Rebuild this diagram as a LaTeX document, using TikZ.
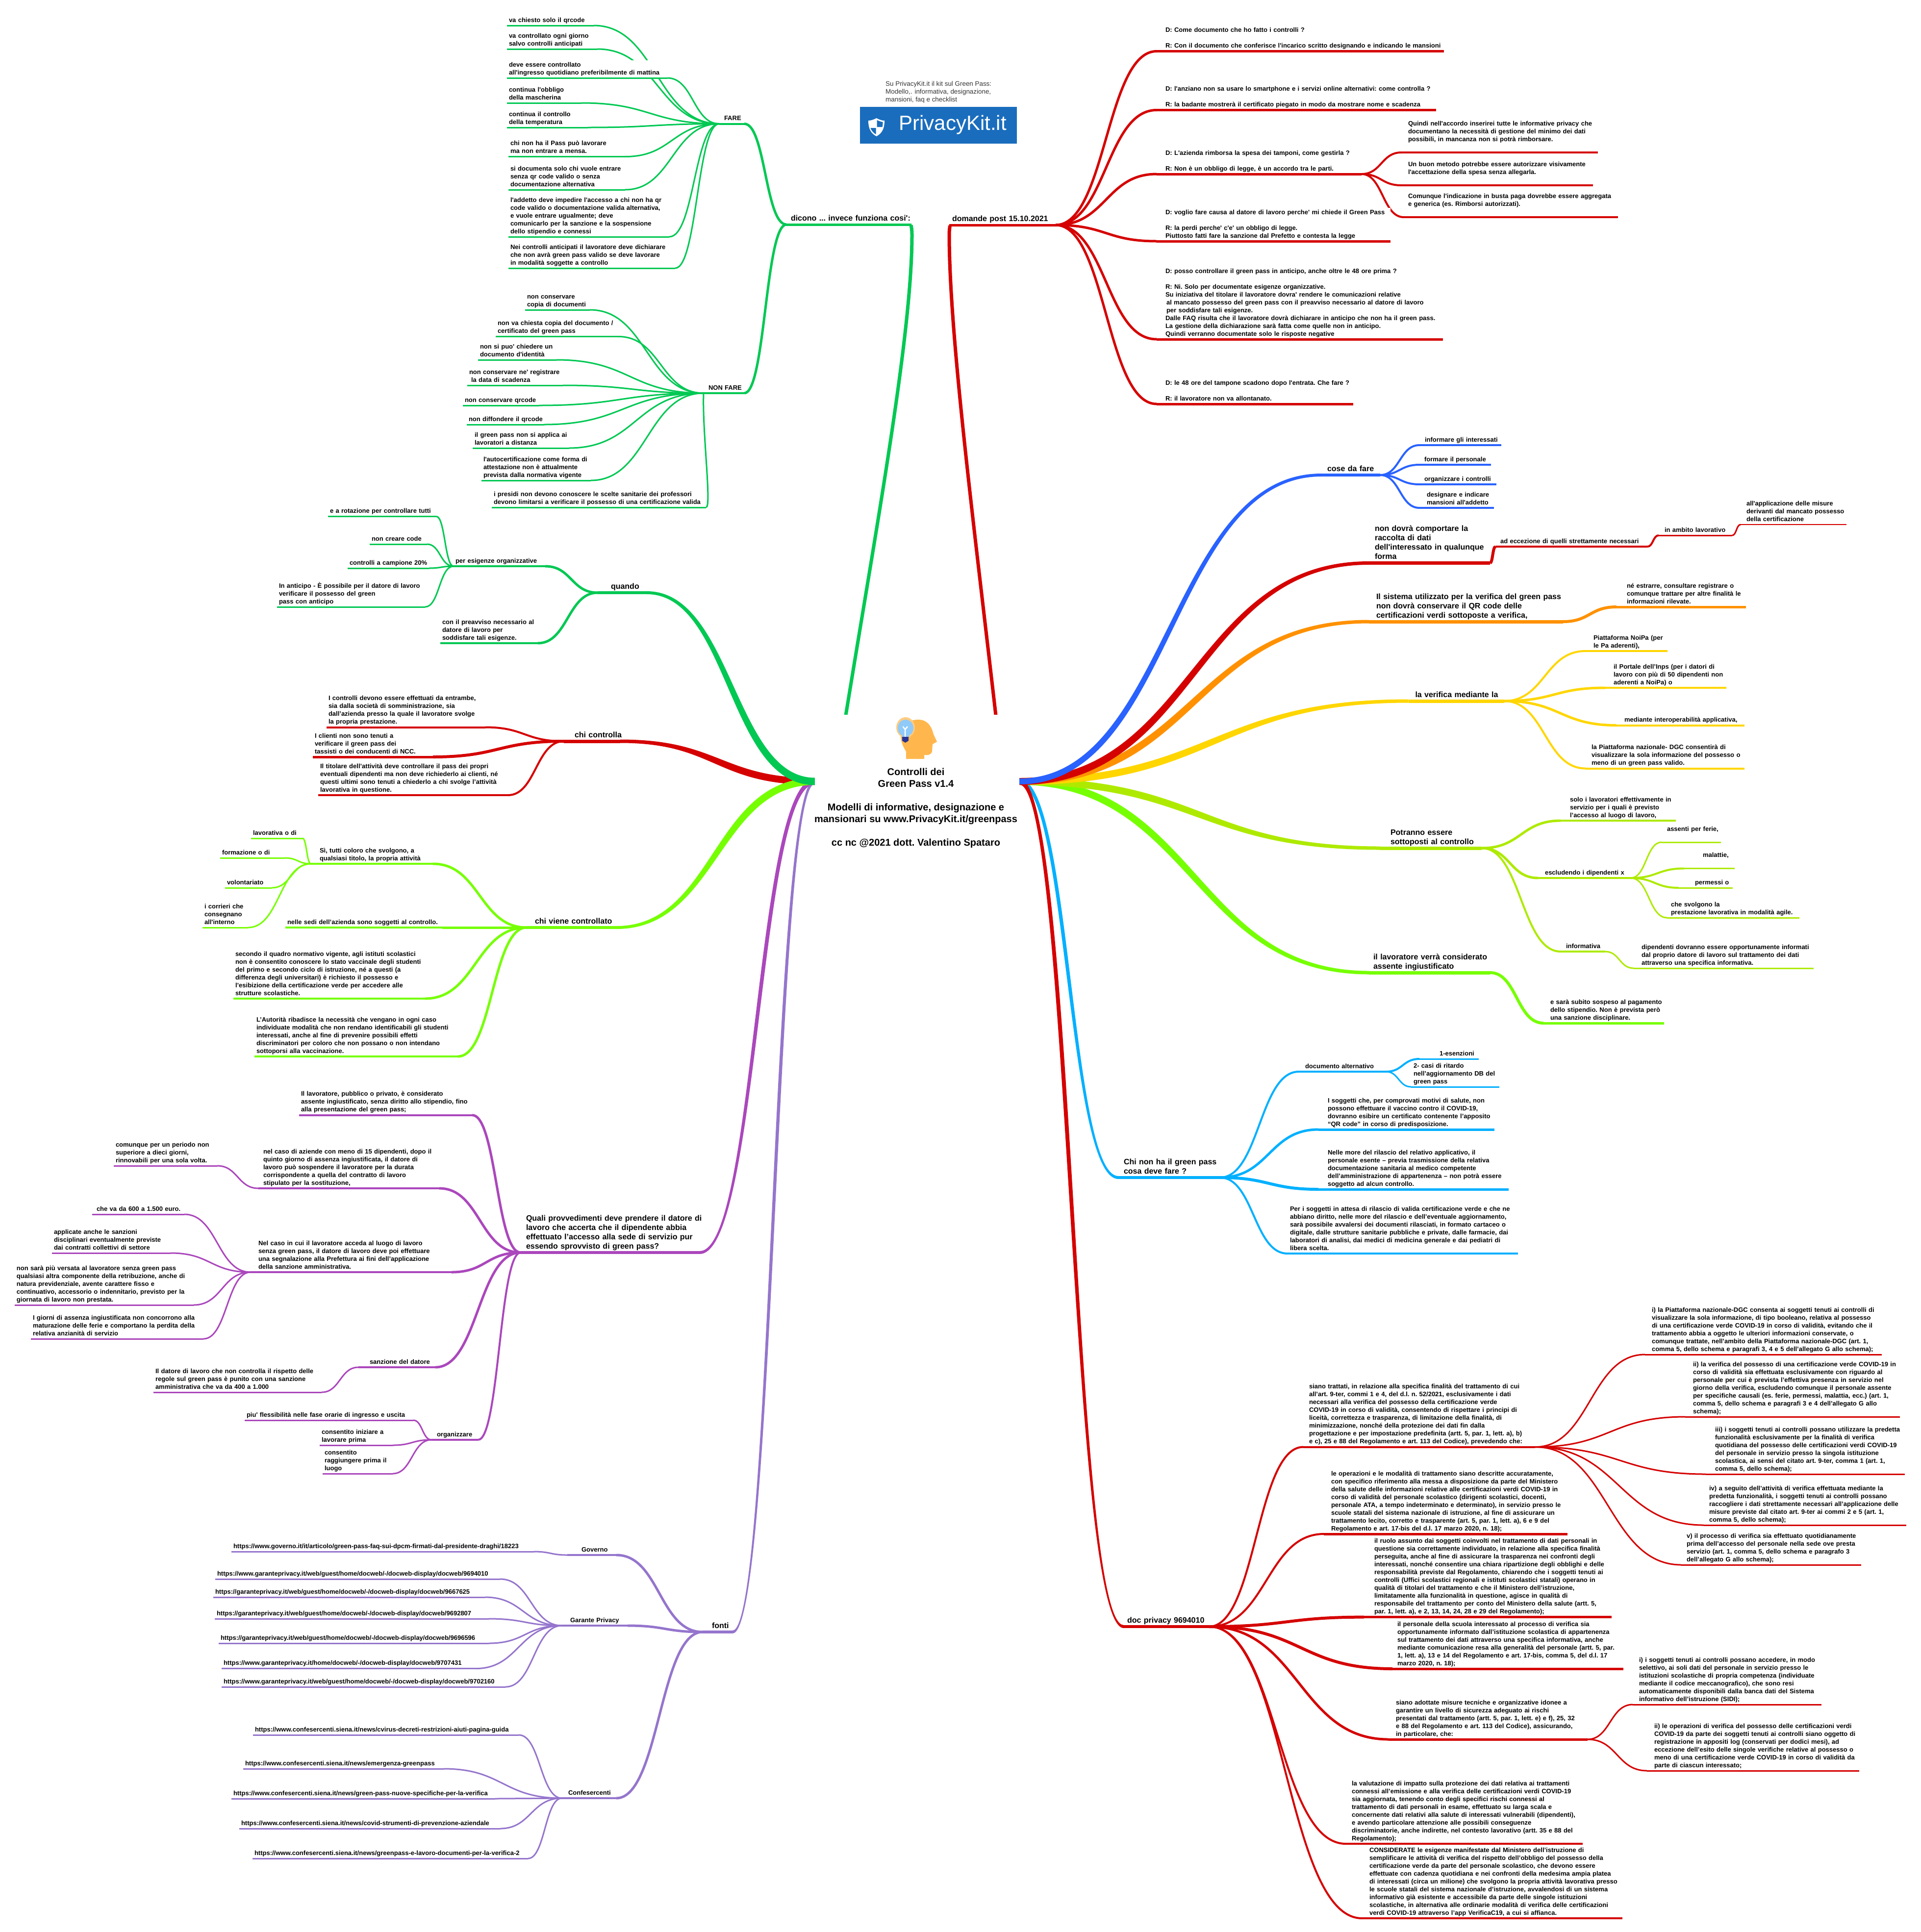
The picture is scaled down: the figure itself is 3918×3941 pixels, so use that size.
\documentclass[tikz,border=0pt]{standalone}
\usepackage{fontspec}
\usepackage{xcolor}
\usetikzlibrary{calc,backgrounds}
\newfontfamily\mapfont{Liberation Sans}
\newfontfamily\plainfont{Liberation Sans}
\newcommand{\leaffont}{\mapfont\bfseries\frenchspacing\fontsize{13}{16}\selectfont}
\newcommand{\topicfont}{\mapfont\bfseries\frenchspacing\fontsize{16}{19}\selectfont}
\newcommand{\titlefont}{\mapfont\bfseries\frenchspacing\fontsize{20}{24}\selectfont}
\newcommand{\lsk}[1]{\global\leftskip=#1pt\relax}
\newcommand{\leafstart}{\rightskip=-60pt plus 1fil\relax\strut}
\newcommand{\leafend}{\strut\endgraf\global\leftskip=0pt\relax}
\newcommand{\taper}[5]{\fill[#1] let \p1=(#2), \p2=(#3), \n1={0.5*(\x1+\x2)}, \n2={sign(\x2-\x1)}, \n3={sign(\y2-\y1)} in
    (\x1,\y1+#4pt*\n2) .. controls (\n1-#4pt*\n3,\y1+#4pt*\n2) and (\n1-#5pt*\n3,\y2+#5pt*\n2) .. (\x2,\y2+#5pt*\n2)
    -- (\x2,\y2-#5pt*\n2) .. controls (\n1+#5pt*\n3,\y2-#5pt*\n2) and (\n1+#4pt*\n3,\y1-#4pt*\n2) .. (\x1,\y1-#4pt*\n2) -- cycle;}
\definecolor{mapgreen}{HTML}{00C853}
\definecolor{mapred}{HTML}{D50000}
\definecolor{mapblue}{HTML}{2962FF}
\definecolor{maporange}{HTML}{FF9100}
\definecolor{mapyellow}{HTML}{FFD600}
\definecolor{maplime}{HTML}{AEEA00}
\definecolor{mapbright}{HTML}{76FF03}
\definecolor{mapsky}{HTML}{00B0FF}
\definecolor{mappurple}{HTML}{AB47BC}
\definecolor{mapviolet}{HTML}{9575CD}
\definecolor{logoblue}{HTML}{1A6DBD}
\definecolor{headtone}{HTML}{FFB74D}
\definecolor{halotone}{HTML}{FFCC80}
\definecolor{bulbtone}{HTML}{90CAF9}
\definecolor{basetone}{HTML}{283593}

\begin{document}
\begin{tikzpicture}[
    x=1pt, y=-1pt,
    leaf/.style n args={3}{rectangle, fill=white, anchor=south west, outer sep=0pt, inner xsep=4pt, inner ysep=2pt,
        align=left, text width=#1pt-8pt, font=\leaffont,
        execute at begin node=\leafstart, execute at end node=\leafend,
        append after command={(\tikzlastnode.south west) edge[draw=#2, line width=#3pt] (\tikzlastnode.south east)}},
    topic/.style n args={3}{leaf={#1}{#2}{#3}, font=\topicfont},
    link/.style={line width=#1pt},
    branch/.style={to path={let \p1=(\tikztostart), \p2=(\tikztotarget), \n1={0.5*(\x2-\x1)} in
        .. controls +(\n1,0) and +(-\n1,0) .. (\tikztotarget)}},
]
    \useasboundingbox (0,0) rectangle (3918,3941);

    % Centre
    \node[rectangle, fill=white, outer sep=0pt, minimum width=417pt, minimum height=272pt] (hubbox) at (1870.5,1594) {};
    \node[font=\titlefont, align=center] (title) at (1868,1648) {Controlli dei\\Green Pass v1.4\\~\\Modelli di informative, designazione e\\mansionari su www.PrivacyKit.it/greenpass\\~\\cc nc @2021 dott. Valentino Spataro};
    \coordinate (dicut) at (1725,1459);
    \coordinate (docut) at (2031,1459);

    % Head icon
    \fill[headtone] (1848,1548) -- (1848,1533) .. controls (1840,1520) and (1837,1510) .. (1837,1500) .. controls (1837,1480) and (1852,1468) .. (1873,1468) .. controls (1892,1468) and (1900,1482) .. (1904,1498) -- (1911,1513) -- (1902,1518) -- (1901,1532) .. controls (1900,1540) and (1892,1541) .. (1885,1540) -- (1885,1548) -- cycle;
    \fill[halotone] (1847,1484) ellipse (19pt and 21pt);
    \fill[bulbtone] (1847,1485) ellipse (16pt and 17pt);
    \fill[bulbtone] (1840,1495) rectangle (1854,1504);
    \draw[white, line width=2.5pt] (1846,1503) -- (1846,1488) -- (1841.5,1482) (1846,1488) -- (1851,1482);
    \fill[basetone] (1840,1503) -- (1853,1503) -- (1853,1511) -- (1846.5,1515) -- (1840,1511) -- cycle;

    % Logo
    \node[font=\plainfont\fontsize{13.4}{16}\selectfont, text=black!80, anchor=south west, align=left, inner sep=0pt] (note) at (1806,212) {Su PrivacyKit.it il kit sul Green Pass:\\Modello,. informativa, designazione,\\mansioni, faq e checklist\strut};
    \node[rectangle, fill=logoblue, minimum width=320pt, minimum height=75pt] (logo) at (1914,255.5) {};
    \node[font=\plainfont\fontsize{42}{46}\selectfont, text=white] (logotext) at (1943,255) {PrivacyKit.it};
    \fill[white] (1787.5,241) .. controls (1780,245) and (1775,246) .. (1771,246) .. controls (1771,262) and (1776,272) .. (1787.5,278) .. controls (1799,272) and (1804,262) .. (1804,246) .. controls (1800,246) and (1795,245) .. (1787.5,241) -- cycle;
    \fill[logoblue] (1788.5,245) .. controls (1793,247) and (1797,248.5) .. (1800.5,249) .. controls (1800.5,252) and (1800.5,256) .. (1799.5,259) -- (1788.5,259) -- cycle;
    \fill[logoblue] (1786.5,261) -- (1775.5,261) .. controls (1777,266) and (1781,271) .. (1786.5,274) -- cycle;

    % dicono ... invece funziona cosi'
    \node[topic={255}{mapgreen}{5}] (dicono) at (1604,458) {\lsk{5}dicono ... invece funziona cosi':};
    \node[leaf={51}{mapgreen}{4}] (fare) at (1467,252.5) {\lsk{6}FARE};
    \node[leaf={83}{mapgreen}{4}] (nonfare) at (1435,802) {\lsk{6}NON FARE};
    \node[leaf={177}{mapgreen}{3}] (fchiesto) at (1034,52) {va chiesto solo il qrcode};
    \node[leaf={184}{mapgreen}{3}] (fogni) at (1034,100) {va controllato ogni giorno\\salvo controlli anticipati};
    \node[leaf={327}{mapgreen}{3}] (fdeve) at (1034,159) {deve essere controllato\\all'ingresso quotidiano preferibilmente di mattina};
    \node[leaf={152}{mapgreen}{3}] (fmasc) at (1034,210) {continua l'obbligo\\della mascherina};
    \node[leaf={165}{mapgreen}{3}] (ftemp) at (1034,260) {continua il controllo\\della temperatura};
    \node[leaf={238}{mapgreen}{3}] (fmensa) at (1037,319.5) {chi non ha il Pass può lavorare\\ma non entrare a mensa.};
    \node[leaf={238}{mapgreen}{3}] (fdoc) at (1037,387) {si documenta solo chi vuole entrare\\senza qr code valido o senza\\documentazione alternativa};
    \node[leaf={328}{mapgreen}{3}] (faddetto) at (1037,483) {l'addetto deve impedire l'accesso a chi non ha qr\\code valido o documentazione valida alternativa,\\e vuole entrare ugualmente; deve\\comunicarlo per la sanzione e la sospensione\\dello stipendio e connessi};
    \node[leaf={340}{mapgreen}{3}] (fnei) at (1037,547) {Nei controlli anticipati il lavoratore deve dichiarare\\che non avrà green pass valido se deve lavorare\\in modalità soggette a controllo};
    \node[leaf={132}{mapgreen}{3}] (ncopia) at (1071,632) {non conservare\\copia di documenti};
    \node[leaf={250}{mapgreen}{3}] (nchiesta) at (1011,686.5) {non va chiesta copia del documento /\\certificato del green pass};
    \node[leaf={160}{mapgreen}{3}] (nident) at (975,734) {non si puo' chiedere un\\documento d'identità};
    \node[leaf={195}{mapgreen}{3}] (nreg) at (953,786) {non conservare ne' registrare\\ \hspace*{4pt}la data di scadenza};
    \node[leaf={155}{mapgreen}{3}] (nqr) at (944,827) {non conservare qrcode};
    \node[leaf={157}{mapgreen}{3}] (ndiff) at (952,866) {non diffondere il qrcode};
    \node[leaf={196}{mapgreen}{3}] (ndist) at (964,914) {il green pass non si applica ai\\lavoratori a distanza};
    \node[leaf={223}{mapgreen}{3}] (nauto) at (982,980) {l'autocertificazione come forma di\\attestazione non è attualmente\\prevista dalla normativa vigente};
    \node[leaf={437}{mapgreen}{3}] (npres) at (1003,1035) {i presidi non devono conoscere le scelte sanitarie dei professori\\devono limitarsi a verificare il possesso di una certificazione valida};

    % quando
    \node[topic={100}{mapgreen}{6}] (quando) at (1219,1209) {\lsk{23}quando};
    \node[leaf={187}{mapgreen}{4}] (pesig) at (925,1155) {per esigenze organizzative};
    \node[leaf={199}{mapgreen}{4}] (qpreav) at (898,1312) {con il preavviso necessario al\\datore di lavoro per\\soddisfare tali esigenze.};
    \node[leaf={221}{mapgreen}{3}] (qrot) at (669,1053.5) {e a rotazione per controllare tutti};
    \node[leaf={117}{mapgreen}{3}] (qcode) at (754,1110) {non creare code};
    \node[leaf={166}{mapgreen}{3}] (qcamp) at (709,1159) {controlli a campione 20\%};
    \node[leaf={302}{mapgreen}{3}] (qant) at (565,1238) {In anticipo - È possibile per il datore di lavoro\\verificare il possesso del green\\pass con anticipo};

    % chi controlla
    \node[topic={115}{mapred}{7}] (chicontr) at (1150,1512) {\lsk{18}chi controlla};
    \node[leaf={324}{mapred}{4}] (ccontr) at (666,1483.5) {I controlli devono essere effettuati da entrambe,\\sia dalla società di somministrazione, sia\\dall’azienda presso la quale il lavoratore svolge\\la propria prestazione.};
    \node[leaf={245}{mapred}{5}] (cclient) at (638,1544) {I clienti non sono tenuti a\\verificare il green pass dei\\tassisti o dei conducenti di NCC.};
    \node[leaf={387}{mapred}{4}] (ctitol) at (649,1622) {Il titolare dell’attività deve controllare il pass dei propri\\eventuali dipendenti ma non deve richiederlo ai clienti, né\\questi ultimi sono tenuti a chiederlo a chi svolge l’attività\\lavorativa in questione.};

    % chi viene controllato
    \node[topic={183}{mapbright}{6}] (chiviene) at (1074,1892) {\lsk{13}chi viene controllato};
    \node[leaf={249}{mapbright}{4}] (vsi) at (634,1762) {\lsk{14}Sì, tutti coloro che svolgono, a\\qualsiasi titolo, la propria attività};
    \node[leaf={320}{mapbright}{4}] (vsedi) at (582,1892) {nelle sedi dell’azienda sono soggetti al controllo.};
    \node[leaf={391}{mapbright}{4}] (vsec) at (476,2037) {secondo il quadro normativo vigente, agli istituti scolastici\\non è consentito conoscere lo stato vaccinale degli studenti\\del primo e secondo ciclo di istruzione, né a questi (a\\differenza degli universitari) è richiesto il possesso e\\l’esibizione della certificazione verde per accedere alle\\strutture scolastiche.};
    \node[leaf={415}{mapbright}{4}] (vaut) at (519,2155) {L’Autorità ribadisce la necessità che vengano in ogni caso\\individuate modalità che non rendano identificabili gli studenti\\interessati, anche al fine di prevenire possibili effetti\\discriminatori per coloro che non possano o non intendano\\sottoporsi alla vaccinazione.};
    \node[leaf={105}{mapbright}{3}] (vlav) at (512,1710) {lavorativa o di};
    \node[leaf={132}{mapbright}{3}] (vform) at (449,1750) {formazione o di};
    \node[leaf={95}{mapbright}{3}] (vvol) at (459,1811) {volontariato};
    \node[leaf={93}{mapbright}{3}] (vcorr) at (413,1892) {i corrieri che\\consegnano\\all'interno};

    % Quali provvedimenti
    \node[topic={365}{mappurple}{6}] (quali) at (1062,2555) {\lsk{7}Quali provvedimenti deve prendere il datore di\\lavoro che accerta che il dipendente abbia\\effettuato l’accesso alla sede di servizio pur\\essendo sprovvisto di green pass?};
    \node[leaf={353}{mappurple}{4}] (prlav) at (610,2274.6) {Il lavoratore, pubblico o privato, è considerato\\assente ingiustificato, senza diritto allo stipendio, fino\\alla presentazione del green pass;};
    \node[leaf={369}{mappurple}{4}] (paz) at (527,2424) {\lsk{6}nel caso di aziende con meno di 15 dipendenti, dopo il\\quinto giorno di assenza ingiustificata, il datore di\\lavoro può sospendere il lavoratore per la durata\\corrispondente a quella del contratto di lavoro\\stipulato per la sostituzione,};
    \node[leaf={211}{mappurple}{3}] (pcom) at (232,2378) {comunque per un periodo non\\superiore a dieci giorni,\\rinnovabili per una sola volta.};
    \node[leaf={410}{mappurple}{4}] (pnel) at (511,2595) {\lsk{12}Nel caso in cui il lavoratore acceda al luogo di lavoro\\senza green pass, il datore di lavoro deve poi effettuare\\una segnalazione alla Prefettura ai fini dell’applicazione\\della sanzione amministrativa.};
    \node[leaf={188}{mappurple}{3}] (pche) at (188,2477) {\lsk{5}che va da 600 a 1.500 euro.};
    \node[leaf={242}{mappurple}{3}] (papp) at (106,2556) {applicate anche le sanzioni\\disciplinari eventualmente previste\\dai contratti collettivi di settore};
    \node[leaf={365}{mappurple}{3}] (pnon) at (30,2662) {non sarà più versata al lavoratore senza green pass\\qualsiasi altra componente della retribuzione, anche di\\natura previdenziale, avente carattere fisso e\\continuativo, accessorio o indennitario, previsto per la\\giornata di lavoro non prestata.};
    \node[leaf={352}{mappurple}{3}] (pgio) at (63,2731) {I giorni di assenza ingiustificata non concorrono alla\\maturazione delle ferie e comportano la perdita della\\relativa anzianità di servizio};
    \node[leaf={157}{mappurple}{4}] (psanz) at (731,2789) {\lsk{19}sanzione del datore};
    \node[leaf={343}{mappurple}{3}] (pdat) at (313,2840) {Il datore di lavoro che non controlla il rispetto delle\\regole sul green pass è punito con una sanzione\\amministrativa che va da 400 a 1.000};
    \node[leaf={95}{mappurple}{4}] (porg) at (880,2937) {\lsk{7}organizzare};
    \node[leaf={344}{mappurple}{3}] (ppiu) at (499,2897) {piu' flessibilità nelle fase orarie di ingresso e uscita};
    \node[leaf={149}{mappurple}{3}] (pcons) at (652,2948) {consentito iniziare a\\lavorare prima};
    \node[leaf={143}{mappurple}{3}] (prag) at (658,3006) {consentito\\raggiungere prima il\\luogo};

    % fonti
    \node[topic={61}{mapviolet}{6}] (fonti) at (1433,3329) {\lsk{15}fonti};
    \node[leaf={100}{mapviolet}{4}] (sgov) at (1157,3172) {\lsk{25}Governo};
    \node[leaf={134}{mapviolet}{4}] (sgar) at (1146,3316) {\lsk{13}Garante Privacy};
    \node[leaf={111}{mapviolet}{4}] (scon) at (1146,3668) {\lsk{9}Confesercenti};
    \node[leaf={617}{mapviolet}{3}] (ugov) at (472,3165) {https://www.governo.it/it/articolo/green-pass-faq-sui-dpcm-firmati-dal-presidente-draghi/18223};
    \node[leaf={581}{mapviolet}{3}] (ug1) at (439,3221) {https://www.garanteprivacy.it/web/guest/home/docweb/-/docweb-display/docweb/9694010};
    \node[leaf={554}{mapviolet}{3}] (ug2) at (435,3258) {https://garanteprivacy.it/web/guest/home/docweb/-/docweb-display/docweb/9667625};
    \node[leaf={559}{mapviolet}{3}] (ug3) at (438,3302) {https://garanteprivacy.it/web/guest/home/docweb/-/docweb-display/docweb/9692807};
    \node[leaf={551}{mapviolet}{3}] (ug4) at (446,3352) {https://garanteprivacy.it/web/guest/home/docweb/-/docweb-display/docweb/9696596};
    \node[leaf={518}{mapviolet}{3}] (ug5) at (452,3403.6) {https://www.garanteprivacy.it/home/docweb/-/docweb-display/docweb/9707431};
    \node[leaf={579}{mapviolet}{3}] (ug6) at (452,3441) {https://www.garanteprivacy.it/web/guest/home/docweb/-/docweb-display/docweb/9702160};
    \node[leaf={542}{mapviolet}{3}] (uc1) at (516,3539) {https://www.confesercenti.siena.it/news/cvirus-decreti-restrizioni-aiuti-pagina-guida};
    \node[leaf={409}{mapviolet}{3}] (uc2) at (496,3608) {https://www.confesercenti.siena.it/news/emergenza-greenpass};
    \node[leaf={538}{mapviolet}{3}] (uc3) at (472,3669) {https://www.confesercenti.siena.it/news/green-pass-nuove-specifiche-per-la-verifica};
    \node[leaf={532}{mapviolet}{3}] (uc4) at (488,3730) {https://www.confesercenti.siena.it/news/covid-strumenti-di-prevenzione-aziendale};
    \node[leaf={562}{mapviolet}{3}] (uc5) at (515,3791) {https://www.confesercenti.siena.it/news/greenpass-e-lavoro-documenti-per-la-verifica-2};

    % domande post
    \node[topic={217}{mapred}{5}] (domande) at (1936,459) {\lsk{2}domande post 15.10.2021};
    \node[leaf={586}{mapred}{5}] (d1) at (2359,104.5) {\lsk{14}D: Come documento che ho fatto i controlli ?\\~\\R: Con il documento che conferisce l'incarico scritto designando e indicando le mansioni};
    \node[leaf={570}{mapred}{5}] (d2) at (2359,224.5) {\lsk{14}D: l'anziano non sa usare lo smartphone e i servizi online alternativi: come controlla ?\\~\\R: la badante mostrerà il certificato piegato in modo da mostrare nome e scadenza};
    \node[leaf={418}{mapred}{5}] (d3) at (2359,355) {\lsk{14}D: L'azienda rimborsa la spesa dei tamponi, come gestirla ?\\~\\R: Non è un obbligo di legge, è un accordo tra le parti.};
    \node[leaf={477}{mapred}{5}] (d4) at (2359,492) {\lsk{14}D: voglio fare causa al datore di lavoro perche' mi chiede il Green Pass\\~\\R: la perdi perche' c'e' un obbligo di legge.\\Piuttosto fatti fare la sanzione dal Prefetto e contesta la legge};
    \node[leaf={584}{mapred}{5}] (d5) at (2359,692) {\lsk{14}D: posso controllare il green pass in anticipo, anche oltre le 48 ore prima ?\\~\\R: Ni. Solo per documentate esigenze organizzative.\\Su iniziativa del titolare il lavoratore dovra' rendere le comunicazioni relative\\ \hspace*{2pt}al mancato possesso del green pass con il preavviso necessario al datore di lavoro\\ \hspace*{2pt}per soddisfare tali esigenze.\\Dalle FAQ risulta che il lavoratore dovrà dichiarare in anticipo che non ha il green pass.\\La gestione della dichiarazione sarà fatta come quelle non in anticipo.\\Quindi verranno documentate solo le risposte negative};
    \node[leaf={401}{mapred}{5}] (d6) at (2359,824) {\lsk{14}D: le 48 ore del tampone scadono dopo l'entrata. Che fare ?\\~\\R: il lavoratore non va allontanato.};
    \node[leaf={401}{mapred}{4}] (d3a) at (2858,311) {\lsk{10}Quindi nell'accordo inserirei tutte le informative privacy che\\documentano la necessità di gestione del minimo dei dati\\possibili, in mancanza non si potrà rimborsare.\\};
    \node[leaf={391}{mapred}{4}] (d3b) at (2858,378) {\lsk{10}Un buon metodo potrebbe essere autorizzare visivamente\\l'accettazione  della spesa senza allegarla.\\};
    \node[leaf={437}{mapred}{4}] (d3c) at (2863,443) {\lsk{5}Comunque l'indicazione in busta paga dovrebbe essere aggregata\\e generica (es. Rimborsi autorizzati).\\};

    % cose da fare
    \node[topic={120}{mapblue}{6}] (cose) at (2695,969) {\lsk{8}cose da fare};
    \node[leaf={167}{mapblue}{4}] (ci1) at (2895,908) {\lsk{7}informare gli interessati};
    \node[leaf={146}{mapblue}{4}] (ci2) at (2895,948) {\lsk{6}formare il personale};
    \node[leaf={157}{mapblue}{4}] (ci3) at (2895,988) {\lsk{6}organizzare i controlli};
    \node[leaf={152}{mapblue}{4}] (ci4) at (2895,1036) {\lsk{11}designare e indicare\\mansioni all'addetto};

    % non dovra' comportare
    \node[topic={247}{mapred}{7}] (raccolta) at (2792,1148.5) {\lsk{8}non dovrà comportare la\\raccolta di dati\\dell'interessato in qualunque\\forma};
    \node[leaf={310}{mapred}{4}] (rad) at (3050,1115) {\lsk{6}ad eccezione di quelli strettamente necessari};
    \node[leaf={150}{mapred}{3}] (ramb) at (3383,1092) {\lsk{8}in ambito lavorativo};
    \node[leaf={216}{mapred}{2}] (rall) at (3550,1070) {\lsk{8}all'applicazione delle misure\\derivanti dal mancato possesso\\della certificazione};

    % sistema
    \node[topic={396}{maporange}{7}] (sistema) at (2792,1268) {\lsk{11}Il sistema utilizzato per la verifica del green pass\\non dovrà conservare il QR code delle\\certificazioni verdi sottoposte a verifica,};
    \node[leaf={264}{maporange}{5}] (sne) at (3297,1238) {\lsk{17}né estrarre, consultare registrare o\\comunque trattare per altre finalità le\\informazioni rilevate.};

    % la verifica
    \node[topic={195}{mapyellow}{7}] (verifica) at (2872.5,1430) {\lsk{10}la verifica mediante la};
    \node[leaf={167}{mapyellow}{4}] (vpia) at (3234,1328) {\lsk{12}Piattaforma NoiPa (per\\le Pa aderenti),};
    \node[leaf={247}{mapyellow}{4}] (vpor) at (3274,1403) {\lsk{13}il Portale dell’Inps (per i datori di\\lavoro con più di 50 dipendenti non\\aderenti a NoiPa) o};
    \node[leaf={261}{mapyellow}{4}] (vint) at (3297,1479.5) {\lsk{12}mediante interoperabilità applicativa,};
    \node[leaf={324}{mapyellow}{4}] (vpn) at (3234,1567.5) {\lsk{8}la Piattaforma nazionale- DGC consentirà di\\visualizzare la sola informazione del possesso o\\meno di un green pass valido.};

    % Potranno
    \node[topic={207}{maplime}{7}] (potranno) at (2815,1730) {\lsk{17}Potranno essere\\sottoposti al controllo};
    \node[leaf={235}{maplime}{4}] (plav) at (3183,1674) {\lsk{15}solo i lavoratori effettivamente in\\servizio per i quali è previsto\\l’accesso al luogo di lavoro,};
    \node[leaf={189}{maplime}{4}] (pesc) at (3137,1791) {\lsk{10}escludendo i dipendenti x};
    \node[leaf={91}{maplime}{4}] (pinf) at (3183,1941) {\lsk{7}informativa};
    \node[leaf={367}{maplime}{3}] (pdip) at (3332,1975) {\lsk{12}dipendenti dovranno essere opportunamente informati\\dal proprio datore di lavoro sul trattamento dei dati\\attraverso una specifica informativa.};
    \node[leaf={121}{maplime}{3}] (pfer) at (3389,1718) {\lsk{7}assenti per ferie,\\};
    \node[leaf={103}{maplime}{3}] (pmal) at (3435,1771.5) {\lsk{34}malattie,\\};
    \node[leaf={110}{maplime}{3}] (pper) at (3424,1811) {\lsk{29}permessi o};
    \node[leaf={270}{maplime}{3}] (psvo) at (3400,1872) {\lsk{4}che svolgono la\\prestazione lavorativa in modalità agile.};

    % il lavoratore
    \node[topic={247}{mapbright}{7}] (ass) at (2792,1984) {\lsk{5}il lavoratore verrà considerato\\assente ingiustificato};
    \node[leaf={246}{mapbright}{5}] (asos) at (3148,2087) {\lsk{10}e sarà subito sospeso al pagamento\\dello stipendio. Non è prevista però\\una sanzione disciplinare.};

    % Chi non ha il green pass
    \node[topic={207}{mapsky}{6}] (chinon) at (2281,2402) {\lsk{7}Chi non ha il green pass\\cosa deve fare ?};
    \node[leaf={178}{mapsky}{4}] (cdoc) at (2649,2186) {\lsk{9}documento alternativo};
    \node[leaf={121}{mapsky}{3}] (ces) at (2895,2160) {\lsk{37}1-esenzioni};
    \node[leaf={180}{mapsky}{3}] (crit) at (2878,2217) {\lsk{1}2- casi di ritardo\\nell’aggiornamento DB del\\green pass};
    \node[leaf={359}{mapsky}{5}] (csog) at (2689,2304) {\lsk{15}I soggetti che, per comprovati motivi di salute, non\\possono effettuare il vaccino contro il COVID-19,\\dovranno esibire un certificato contenente l’apposito\\“QR code” in corso di predisposizione.};
    \node[leaf={388}{mapsky}{5}] (cmor) at (2689,2426) {\lsk{15}Nelle more del rilascio del relativo applicativo, il\\personale esente – previa trasmissione della relativa\\documentazione sanitaria al medico competente\\dell’amministrazione di appartenenza – non potrà essere\\soggetto ad alcun controllo.};
    \node[leaf={470}{mapsky}{4}] (cper) at (2626,2557) {\lsk{1}Per i soggetti in attesa di rilascio di valida certificazione verde e che ne\\abbiano diritto, nelle more del rilascio e dell’eventuale aggiornamento,\\sarà possibile avvalersi dei documenti rilasciati, in formato cartaceo o\\digitale, dalle strutture sanitarie pubbliche e private, dalle farmacie, dai\\laboratori di analisi, dai medici di medicina generale e dai pediatri di\\libera scelta.};

    % doc privacy
    \node[topic={174}{mapred}{6}] (doc) at (2292,3318) {\lsk{3}doc privacy 9694010};
    \node[leaf={473}{mapred}{4}] (dsia) at (2658,2951.6) {\lsk{8}siano trattati, in relazione alla specifica finalità del trattamento di cui\\all’art. 9-ter, commi 1 e 4, del d.l. n. 52/2021, esclusivamente i dati\\necessari alla verifica del possesso della certificazione verde\\COVID-19 in corso di validità, consentendo di rispettare i principi di\\liceità, correttezza e trasparenza, di limitazione della finalità, di\\minimizzazione, nonché della protezione dei dati fin dalla\\progettazione e per impostazione predefinita (artt. 5, par. 1, lett. a), b)\\e c), 25 e 88 del Regolamento e art. 113 del Codice), prevedendo che:};
    \node[leaf={483}{mapred}{3}] (i1) at (3355,2763) {\lsk{10}i) la Piattaforma nazionale-DGC consenta ai soggetti tenuti ai controlli di\\visualizzare la sola informazione, di tipo booleano, relativa al possesso\\di una certificazione verde COVID-19 in corso di validità, evitando che il\\trattamento abbia a oggetto le ulteriori informazioni conservate, o\\comunque trattate, nell’ambito della Piattaforma nazionale-DGC (art. 1,\\comma 5, dello schema e paragrafi 3, 4 e 5 dell’allegato G allo schema);};
    \node[leaf={438}{mapred}{3}] (i2) at (3437,2890) {\lsk{12}ii) la verifica del possesso di una certificazione verde COVID-19 in\\corso di validità sia effettuata esclusivamente con riguardo al\\personale per cui è prevista l’effettiva presenza in servizio nel\\giorno della verifica, escludendo comunque il personale assente\\per specifiche causali (es. ferie, permessi, malattia, ecc.) (art. 1,\\comma 5, dello schema e paragrafi 3 e 4 dell’allegato G allo\\schema);};
    \node[leaf={406}{mapred}{3}] (i3) at (3479,3007) {\lsk{15}iii) i soggetti tenuti ai controlli possano utilizzare la predetta\\funzionalità esclusivamente per la finalità di verifica\\quotidiana del possesso delle certificazioni verdi COVID-19\\del personale in servizio presso la singola istituzione\\scolastica, ai sensi del citato art. 9-ter, comma 1 (art. 1,\\comma 5, dello schema);};
    \node[leaf={413}{mapred}{3}] (i4) at (3475,3111) {\lsk{7}iv) a seguito dell’attività di verifica effettuata mediante la\\predetta funzionalità, i soggetti tenuti ai controlli possano\\raccogliere i dati strettamente necessari all’applicazione delle\\misure previste dal citato art. 9-ter ai commi 2 e 5 (art. 1,\\comma 5, dello schema);};
    \node[leaf={367}{mapred}{3}] (i5) at (3429,3192) {\lsk{7}v) il processo di verifica sia effettuato quotidianamente\\prima dell’accesso del personale nella sede ove presta\\servizio (art. 1, comma 5, dello schema e paragrafo 3\\dell’allegato G allo schema);};
    \node[leaf={497}{mapred}{5}] (dope) at (2700,3129) {\lsk{11}le operazioni e le modalità di trattamento siano descritte accuratamente,\\con specifico riferimento alla messa a disposizione da parte del Ministero\\della salute delle informazioni relative alle certificazioni verdi COVID-19 in\\corso di validità del personale scolastico (dirigenti scolastici, docenti,\\personale ATA, a tempo indeterminato e determinato), in servizio presso le\\scuole statali del sistema nazionale di istruzione, al fine di assicurare un\\trattamento lecito, corretto e trasparente (art. 5, par. 1, lett. a), 6 e 9 del\\Regolamento e art. 17-bis del d.l. 17 marzo 2020, n. 18);};
    \node[leaf={505}{mapred}{5}] (druo) at (2782,3298.6) {\lsk{17}il ruolo assunto dai soggetti coinvolti nel trattamento di dati personali in\\questione sia correttamente individuato, in relazione alla specifica finalità\\perseguita, anche al fine di assicurare la trasparenza nei confronti degli\\interessati, nonché consentire una chiara ripartizione degli obblighi e delle\\responsabilità previste dal Regolamento, chiarendo che i soggetti tenuti ai\\controlli (Uffici scolastici regionali e istituti scolastici statali) operano in\\qualità di titolari del trattamento e che il Ministero dell’istruzione,\\limitatamente alla funzionalità in questione, agisce in qualità di\\responsabile del trattamento per conto del Ministero della salute (artt. 5,\\par. 1, lett. a), e 2, 13, 14, 24, 28 e 29 del Regolamento);};
    \node[leaf={471}{mapred}{5}] (dper) at (2840,3404) {\lsk{6}il personale della scuola interessato al processo di verifica sia\\opportunamente informato dall’istituzione scolastica di appartenenza\\sul trattamento dei dati attraverso una specifica informativa, anche\\mediante comunicazione resa alla generalità del personale (artt. 5, par.\\1, lett. a), 13 e 14 del Regolamento e art. 17-bis, comma 5, del d.l. 17\\marzo 2020, n. 18);};
    \node[leaf={406}{mapred}{5}] (dado) at (2832,3548) {\lsk{11}siano adottate misure tecniche e organizzative idonee a\\garantire un livello di sicurezza adeguato ai rischi\\presentati dal trattamento (artt. 5, par. 1, lett. e) e f), 25, 32\\e 88 del Regolamento e art. 113 del Codice), assicurando,\\in particolare, che:};
    \node[leaf={385}{mapred}{3}] (j1) at (3330,3477) {\lsk{9}i) i soggetti tenuti ai controlli possano accedere, in modo\\selettivo, ai soli dati del personale in servizio presso le\\istituzioni scolastiche di propria competenza (individuate\\mediante il codice meccanografico), che sono resi\\automaticamente disponibili dalla banca dati del Sistema\\informativo dell’istruzione (SIDI);};
    \node[leaf={433}{mapred}{3}] (j2) at (3359,3612) {\lsk{11}ii) le operazioni di verifica del possesso delle certificazioni verdi\\COVID-19 da parte dei soggetti tenuti ai controlli siano oggetto di\\registrazione in appositi log (conservati per dodici mesi), ad\\eccezione dell’esito delle singole verifiche relative al possesso o\\meno di una certificazione verde COVID-19 in corso di validità da\\parte di ciascun interessato;};
    \node[leaf={483}{mapred}{4}] (dval) at (2745,3761) {\lsk{8}la valutazione di impatto sulla protezione dei dati relativa ai trattamenti\\connessi all’emissione e alla verifica delle certificazioni verdi COVID-19\\sia aggiornata, tenendo conto degli specifici rischi connessi al\\trattamento di dati personali in esame, effettuato su larga scala e\\concernente dati relativi alla salute di interessati vulnerabili (dipendenti),\\e avendo particolare attenzione alle possibili conseguenze\\discriminatorie, anche indirette, nel contesto lavorativo (artt. 35 e 88 del\\Regolamento);};
    \node[leaf={531}{mapred}{4}] (dcon) at (2778,3913) {\lsk{11}CONSIDERATE le esigenze manifestate dal Ministero dell’istruzione di\\semplificare le attività di verifica del rispetto dell’obbligo del possesso della\\certificazione verde da parte del personale scolastico, che devono essere\\effettuate con cadenza quotidiana e nei confronti della medesima ampia platea\\di interessati (circa un milione) che svolgono la propria attività lavorativa presso\\le scuole statali del sistema nazionale d’istruzione, avvalendosi di un sistema\\informativo già esistente e accessibile da parte delle singole istituzioni\\scolastiche, in alternativa alle ordinarie modalità di verifica delle certificazioni\\verdi COVID-19 attraverso l’app VerificaC19, a cui si affianca.};

    % Connectors
    \begin{pgfonlayer}{background}
    \draw[mapgreen, link=7] (dicut) .. controls (1790,1060) and (1860,680) .. (1860,478) .. controls (1860,464) and (1857,458) .. (dicono.south east);
    \draw[mapred, link=7] (docut) .. controls (1985,1060) and (1936,680) .. (1936,478) .. controls (1936,464) and (1939,459) .. (domande.south west);

    \draw[mapgreen, link=5] (dicono.south west) to[branch] (fare.south east);
    \draw[mapgreen, link=5] (dicono.south west) to[branch] (nonfare.south east);
    \draw[mapgreen, link=3] (fare.south west) to[branch] (fchiesto.south east);
    \draw[mapgreen, link=3] (fare.south west) to[branch] (fogni.south east);
    \draw[mapgreen, link=3] (fare.south west) to[branch] (fdeve.south east);
    \draw[mapgreen, link=3] (fare.south west) to[branch] (fmasc.south east);
    \draw[mapgreen, link=3] (fare.south west) to[branch] (ftemp.south east);
    \draw[mapgreen, link=3] (fare.south west) to[branch] (fmensa.south east);
    \draw[mapgreen, link=3] (fare.south west) to[branch] (fdoc.south east);
    \draw[mapgreen, link=3] (fare.south west) to[branch] (faddetto.south east);
    \draw[mapgreen, link=3] (fare.south west) to[branch] (fnei.south east);
    \draw[mapgreen, link=3] (nonfare.south west) to[branch] (ncopia.south east);
    \draw[mapgreen, link=3] (nonfare.south west) to[branch] (nchiesta.south east);
    \draw[mapgreen, link=3] (nonfare.south west) to[branch] (nident.south east);
    \draw[mapgreen, link=3] (nonfare.south west) to[branch] (nreg.south east);
    \draw[mapgreen, link=3] (nonfare.south west) to[branch] (nqr.south east);
    \draw[mapgreen, link=3] (nonfare.south west) to[branch] (ndiff.south east);
    \draw[mapgreen, link=3] (nonfare.south west) to[branch] (ndist.south east);
    \draw[mapgreen, link=3] (nonfare.south west) to[branch] (nauto.south east);
    \draw[mapgreen, link=3] (nonfare.south west) .. controls (1432,880) and (1452,1035) .. (npres.south east);

    \draw[mapgreen, link=5] (quando.south west) to[branch] (pesig.south east);
    \draw[mapgreen, link=5] (quando.south west) to[branch] (qpreav.south east);
    \draw[mapgreen, link=3] (pesig.south west) to[branch] (qrot.south east);
    \draw[mapgreen, link=3] (pesig.south west) to[branch] (qcode.south east);
    \draw[mapgreen, link=3] (pesig.south west) to[branch] (qcamp.south east);
    \draw[mapgreen, link=3] (pesig.south west) to[branch] (qant.south east);

    \draw[mapred, link=4] (chicontr.south west) to[branch] (ccontr.south east);
    \draw[mapred, link=6] (chicontr.south west) to[branch] (cclient.south east);
    \draw[mapred, link=4] (chicontr.south west) to[branch] (ctitol.south east);

    \draw[mapbright, link=5] (chiviene.south west) to[branch] (vsi.south east);
    \draw[mapbright, link=5] (chiviene.south west) to[branch] (vsedi.south east);
    \draw[mapbright, link=5] (chiviene.south west) to[branch] (vsec.south east);
    \draw[mapbright, link=5] (chiviene.south west) to[branch] (vaut.south east);
    \draw[mapbright, link=3] (vsi.south west) to[branch] (vlav.south east);
    \draw[mapbright, link=3] (vsi.south west) to[branch] (vform.south east);
    \draw[mapbright, link=3] (vsi.south west) to[branch] (vvol.south east);
    \draw[mapbright, link=3] (vsi.south west) to[branch] (vcorr.south east);

    \draw[mappurple, link=5] (quali.south west) to[branch] (prlav.south east);
    \draw[mappurple, link=5] (quali.south west) to[branch] (paz.south east);
    \draw[mappurple, link=5] (quali.south west) to[branch] (pnel.south east);
    \draw[mappurple, link=5] (quali.south west) to[branch] (psanz.south east);
    \draw[mappurple, link=4] (quali.south west) to[branch] (porg.south east);
    \draw[mappurple, link=3] (paz.south west) to[branch] (pcom.south east);
    \draw[mappurple, link=3] (pnel.south west) to[branch] (pche.south east);
    \draw[mappurple, link=3] (pnel.south west) to[branch] (papp.south east);
    \draw[mappurple, link=3] (pnel.south west) to[branch] (pnon.south east);
    \draw[mappurple, link=3] (pnel.south west) to[branch] (pgio.south east);
    \draw[mappurple, link=3] (psanz.south west) to[branch] (pdat.south east);
    \draw[mappurple, link=3] (porg.south west) to[branch] (ppiu.south east);
    \draw[mappurple, link=3] (porg.south west) to[branch] (pcons.south east);
    \draw[mappurple, link=3] (porg.south west) to[branch] (prag.south east);

    \draw[mapviolet, link=5] (fonti.south west) to[branch] (sgov.south east);
    \draw[mapviolet, link=5] (fonti.south west) to[branch] (sgar.south east);
    \draw[mapviolet, link=5] (fonti.south west) to[branch] (scon.south east);
    \draw[mapviolet, link=3] (sgov.south west) to[branch] (ugov.south east);
    \draw[mapviolet, link=3] (sgar.south west) to[branch] (ug1.south east);
    \draw[mapviolet, link=3] (sgar.south west) to[branch] (ug2.south east);
    \draw[mapviolet, link=3] (sgar.south west) to[branch] (ug3.south east);
    \draw[mapviolet, link=3] (sgar.south west) to[branch] (ug4.south east);
    \draw[mapviolet, link=3] (sgar.south west) to[branch] (ug5.south east);
    \draw[mapviolet, link=3] (sgar.south west) to[branch] (ug6.south east);
    \draw[mapviolet, link=3] (scon.south west) to[branch] (uc1.south east);
    \draw[mapviolet, link=3] (scon.south west) to[branch] (uc2.south east);
    \draw[mapviolet, link=3] (scon.south west) to[branch] (uc3.south east);
    \draw[mapviolet, link=3] (scon.south west) to[branch] (uc4.south east);
    \draw[mapviolet, link=3] (scon.south west) to[branch] (uc5.south east);

    \draw[mapred, link=5] (domande.south east) to[branch] (d1.south west);
    \draw[mapred, link=5] (domande.south east) to[branch] (d2.south west);
    \draw[mapred, link=5] (domande.south east) to[branch] (d3.south west);
    \draw[mapred, link=5] (domande.south east) to[branch] (d4.south west);
    \draw[mapred, link=5] (domande.south east) to[branch] (d5.south west);
    \draw[mapred, link=5] (domande.south east) to[branch] (d6.south west);
    \draw[mapred, link=4] (d3.south east) to[branch] (d3a.south west);
    \draw[mapred, link=4] (d3.south east) to[branch] (d3b.south west);
    \draw[mapred, link=4] (d3.south east) to[branch] (d3c.south west);

    \draw[mapblue, link=4] (cose.south east) to[branch] (ci1.south west);
    \draw[mapblue, link=4] (cose.south east) to[branch] (ci2.south west);
    \draw[mapblue, link=4] (cose.south east) to[branch] (ci3.south west);
    \draw[mapblue, link=4] (cose.south east) to[branch] (ci4.south west);
    \draw[mapred, link=6] (raccolta.south east) to[branch] (rad.south west);
    \draw[mapred, link=4] (rad.south east) to[branch] (ramb.south west);
    \draw[mapred, link=3] (ramb.south east) to[branch] (rall.south west);
    \draw[maporange, link=6] (sistema.south east) to[branch] (sne.south west);
    \draw[mapyellow, link=4] (verifica.south east) to[branch] (vpia.south west);
    \draw[mapyellow, link=5] (verifica.south east) to[branch] (vpor.south west);
    \draw[mapyellow, link=5] (verifica.south east) to[branch] (vint.south west);
    \draw[mapyellow, link=4] (verifica.south east) to[branch] (vpn.south west);
    \draw[maplime, link=5] (potranno.south east) to[branch] (plav.south west);
    \draw[maplime, link=5] (potranno.south east) to[branch] (pesc.south west);
    \draw[maplime, link=4] (potranno.south east) to[branch] (pinf.south west);
    \draw[maplime, link=3] (pinf.south east) to[branch] (pdip.south west);
    \draw[maplime, link=3] (pesc.south east) to[branch] (pfer.south west);
    \draw[maplime, link=4] (pesc.south east) to[branch] (pmal.south west);
    \draw[maplime, link=4] (pesc.south east) to[branch] (pper.south west);
    \draw[maplime, link=3] (pesc.south east) to[branch] (psvo.south west);
    \draw[mapbright, link=6] (ass.south east) to[branch] (asos.south west);
    \draw[mapsky, link=4] (chinon.south east) to[branch] (cdoc.south west);
    \draw[mapsky, link=5] (chinon.south east) to[branch] (csog.south west);
    \draw[mapsky, link=6] (chinon.south east) to[branch] (cmor.south west);
    \draw[mapsky, link=4] (chinon.south east) to[branch] (cper.south west);
    \draw[mapsky, link=4] (cdoc.south east) to[branch] (ces.south west);
    \draw[mapsky, link=3] (cdoc.south east) to[branch] (crit.south west);

    \draw[mapred, link=4] (doc.south east) to[branch] (dsia.south west);
    \draw[mapred, link=4] (doc.south east) to[branch] (dope.south west);
    \draw[mapred, link=6] (doc.south east) to[branch] (druo.south west);
    \draw[mapred, link=6] (doc.south east) to[branch] (dper.south west);
    \draw[mapred, link=5] (doc.south east) to[branch] (dado.south west);
    \draw[mapred, link=4] (doc.south east) to[branch] (dval.south west);
    \draw[mapred, link=4] (doc.south east) to[branch] (dcon.south west);
    \draw[mapred, link=3] (dsia.south east) to[branch] (i1.south west);
    \draw[mapred, link=3] (dsia.south east) to[branch] (i2.south west);
    \draw[mapred, link=3] (dsia.south east) to[branch] (i3.south west);
    \draw[mapred, link=3] (dsia.south east) to[branch] (i4.south west);
    \draw[mapred, link=3] (dsia.south east) to[branch] (i5.south west);
    \draw[mapred, link=3] (dado.south east) to[branch] (j1.south west);
    \draw[mapred, link=3] (dado.south east) to[branch] (j2.south west);

    % Main branches
    \taper{mapviolet}{hubbox.west}{fonti.south east}{5}{3}
    \taper{mappurple}{hubbox.west}{quali.south east}{5.5}{3}
    \taper{mapred}{hubbox.west}{chicontr.south east}{7}{3.5}
    \taper{mapbright}{hubbox.west}{chiviene.south east}{7}{3}
    \taper{mapgreen}{hubbox.west}{quando.south east}{7.5}{3}
    \taper{mapsky}{hubbox.east}{chinon.south west}{5}{3}
    \taper{mapbright}{hubbox.east}{ass.south west}{7}{3.5}
    \taper{maplime}{hubbox.east}{potranno.south west}{7}{3.5}
    \taper{mapyellow}{hubbox.east}{verifica.south west}{7}{3.5}
    \taper{maporange}{hubbox.east}{sistema.south west}{7}{3.5}
    \taper{mapred}{hubbox.east}{raccolta.south west}{7}{3.5}
    \taper{mapred}{hubbox.east}{doc.south west}{6.5}{3}
    \taper{mapblue}{hubbox.east}{cose.south west}{6}{3}
    \end{pgfonlayer}
\end{tikzpicture}
\end{document}
